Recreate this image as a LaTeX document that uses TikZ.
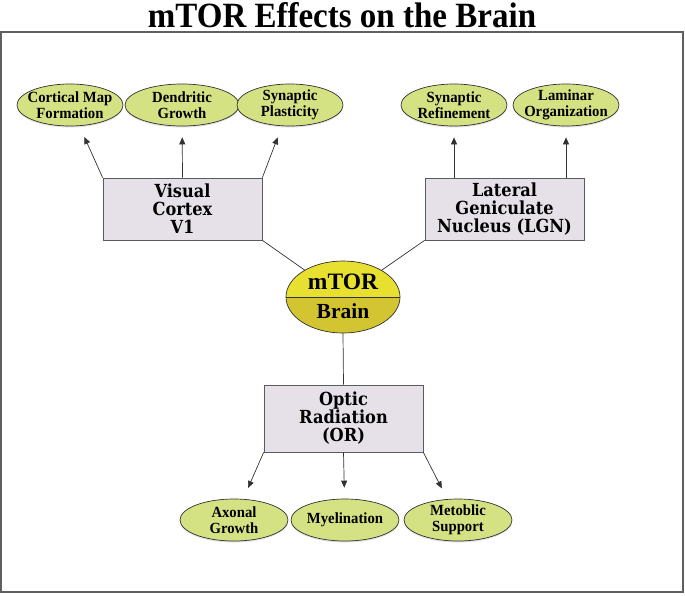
\documentclass[tikz,border=0pt]{standalone}
\usepackage{fontspec}
\setmainfont{Liberation Serif}
\newfontfamily\condfont[FakeStretch=0.95]{Liberation Serif}
\newfontfamily\titlefont[FakeStretch=0.93]{Liberation Serif}
\newfontfamily\boxfont{DejaVu Serif Condensed}
\usetikzlibrary{shapes.geometric,arrows.meta,calc,shadows}
\definecolor{ellfill}{RGB}{213,226,132}
\definecolor{boxfill}{RGB}{230,225,232}
\definecolor{mtortop}{RGB}{232,224,48}
\definecolor{mtorlow}{RGB}{211,197,50}
\definecolor{linecol}{RGB}{50,50,50}
\begin{document}
\begin{tikzpicture}[x=1pt,y=-1pt,
  effect/.style={ellipse, draw=linecol, line width=0.7pt, fill=ellfill,
    minimum width=106pt, minimum height=42pt, inner xsep=-10pt, inner ysep=-5pt, align=center,
    font=\condfont\bfseries\fontsize{15.5}{15.5}\selectfont,
    drop shadow={opacity=0.25, shadow xshift=0pt, shadow yshift=-1.5pt}},
  region/.style={rectangle, draw=linecol!80, line width=0.7pt, fill=boxfill,
    minimum width=159pt, inner sep=0pt, align=center,
    font=\boxfont\bfseries\fontsize{18}{18}\selectfont},
  conn/.style={draw=linecol, line width=0.7pt},
  arr/.style={conn, -{Triangle[length=7pt,width=6pt]}, shorten >=11pt}
]
\useasboundingbox (0,0) rectangle (685,595);
\node[font=\titlefont\bfseries\fontsize{35.5}{36}\selectfont] (title) at (342,15) {mTOR Effects on the Brain};
\draw[gray!75!black, line width=1.4pt] (1,32) rectangle (683,592);

% regions
\node[region, minimum height=62pt] (vc) at (182.5,209) {Visual\\Cortex\\V1};
\node[region, minimum height=62pt] (lgn) at (504.5,209) {Lateral\\Geniculate\\Nucleus (LGN)};
\node[region, minimum height=67pt] (or) at (343.5,418.5) {Optic\\Radiation\\(OR)};

% effects
\node[effect] (cmf) at (70,105) {Cortical Map\\Formation};
\node[effect, minimum width=114pt] (dg) at (182,105) {Dendritic\\Growth};
\node[effect] (sp) at (290,105) {Synaptic\\Plasticity};
\node[effect] (sr) at (454,105) {Synaptic\\Refinement};
\node[effect] (lo) at (566,105) {Laminar\\Organization};
\node[effect, minimum width=108pt] (ag) at (234,520) {Axonal\\Growth};
\node[effect, minimum width=108pt] (my) at (345,520) {Myelination};
\node[effect, minimum width=108pt] (ms) at (458,520) {Metoblic\\Support};

% mTOR
\node[ellipse, minimum width=114pt, minimum height=72pt, fill=mtortop, inner sep=0pt] (brain) at (343,297) {};
\begin{scope}
  \clip ($(brain.west)+(-3,0)$) rectangle ($(brain.east |- brain.south)+(3,3)$);
  \fill[mtorlow] (brain.center) ellipse [x radius=57, y radius=36];
\end{scope}
\draw[linecol, line width=0.7pt] (brain.center) ellipse [x radius=57, y radius=36];
\draw[linecol, line width=0.6pt] (brain.west) -- (brain.east);
\node[font=\bfseries\fontsize{23.5}{24}\selectfont] (mtor) at (343,282) {mTOR};
\node[font=\bfseries\fontsize{21.5}{22}\selectfont] (brn) at (343,311) {Brain};

% connectors
\draw[conn] (vc.south east) -- (brain);
\draw[conn] (lgn.south west) -- (brain);
\draw[conn] (brain.south) -- (or.north);

\draw[arr, shorten >=12pt] (vc.north west) -- (cmf);
\draw[arr] (vc.north) -- (dg);
\draw[arr, shorten >=12pt] (vc.north east) -- (sp);
\draw[arr] (sr |- lgn.north) -- (sr);
\draw[arr] (lo |- lgn.north) -- (lo);
\draw[arr, shorten >=12pt] (or.south west) -- (ag);
\draw[arr] (or.south) -- (my);
\draw[arr, shorten >=12pt] (or.south east) -- (ms);
\end{tikzpicture}
\end{document}
